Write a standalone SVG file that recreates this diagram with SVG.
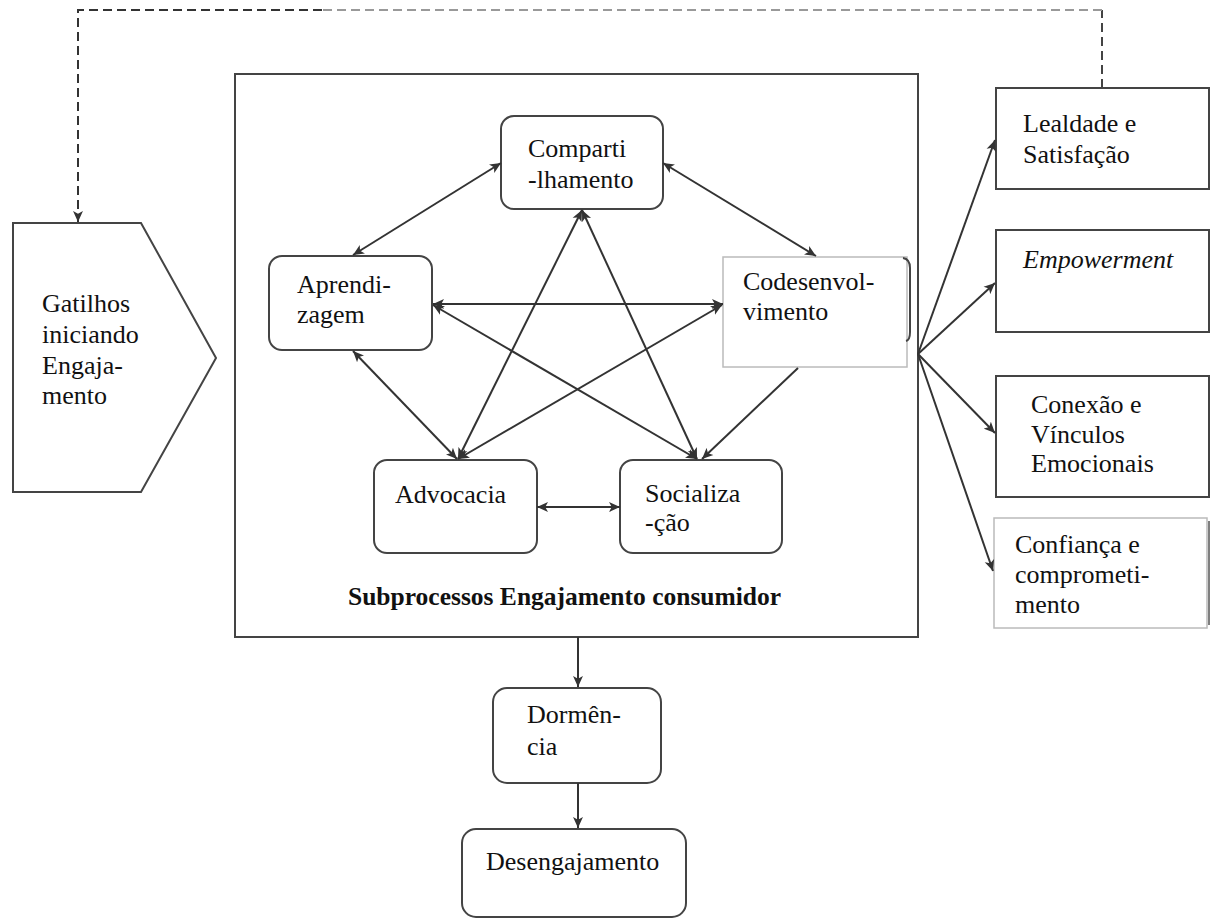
<svg xmlns="http://www.w3.org/2000/svg" width="1216" height="920" viewBox="0 0 1216 920">
  <style>
    text { font-family: 'Liberation Serif', 'Times New Roman', serif; font-size: 26px; fill: #111; }
    .bold { font-weight: bold; font-size: 25.5px; }
    .ital { font-style: italic; }
    .box { fill: #fff; stroke: #444; stroke-width: 2; }
    .light { fill: #fff; stroke: #bbb; stroke-width: 1.5; }
    .link { fill: none; stroke: #333; stroke-width: 2; }
    .dash { fill: none; stroke-width: 2; stroke-dasharray: 9 5; }
  </style>
  <defs>
    <marker id="arrow" viewBox="0 0 10 10" refX="10" refY="5" markerUnits="userSpaceOnUse" markerWidth="11" markerHeight="11" orient="auto-start-reverse">
      <path d="M0,0.5 L10,5 L0,9.5 L2.5,5 z" fill="#333"/>
    </marker>
  </defs>

  <!-- subprocess frame -->
  <g id="frame">
    <rect class="box" x="235" y="74" width="683" height="563"/>
    <text class="bold" x="348" y="605">Subprocessos Engajamento consumidor</text>
  </g>

  <!-- trigger shape -->
  <g id="gatilhos">
    <path class="box" d="M13,223 L141,223 L216,358 L141,492 L13,492 Z"/>
    <text x="42" y="312">Gatilhos</text>
    <text x="42" y="343">iniciando</text>
    <text x="42" y="374">Engaja-</text>
    <text x="42" y="404">mento</text>
  </g>

  <g id="compartilhamento">
    <rect class="box" x="501" y="116" width="162" height="93" rx="13"/>
    <text x="528" y="157">Comparti</text>
    <text x="528" y="188">-lhamento</text>
  </g>

  <g id="aprendizagem">
    <rect class="box" x="269" y="256" width="163" height="94" rx="13"/>
    <text x="297" y="293">Aprendi-</text>
    <text x="297" y="323">zagem</text>
  </g>

  <g id="codesenvolvimento">
    <rect class="light" x="723" y="257" width="184" height="110"/>
    <path d="M903,258 Q910,259 910,268 L910,332 Q910,340 906,341" fill="none" stroke="#444" stroke-width="2"/>
    <text x="743" y="290">Codesenvol-</text>
    <text x="743" y="320">vimento</text>
  </g>

  <g id="advocacia">
    <rect class="box" x="374" y="460" width="163" height="93" rx="13"/>
    <text x="395" y="503">Advocacia</text>
  </g>

  <g id="socializacao">
    <rect class="box" x="620" y="460" width="162" height="93" rx="13"/>
    <text x="645" y="502">Socializa</text>
    <text x="645" y="531">-ção</text>
  </g>

  <g id="lealdade">
    <rect class="box" x="996" y="88" width="213" height="101"/>
    <text x="1023" y="132">Lealdade e</text>
    <text x="1023" y="163">Satisfação</text>
  </g>

  <g id="empowerment">
    <rect class="box" x="996" y="230" width="213" height="102"/>
    <text class="ital" x="1023" y="268">Empowerment</text>
  </g>

  <g id="conexao">
    <rect class="box" x="996" y="376" width="213" height="121"/>
    <text x="1031" y="413">Conexão e</text>
    <text x="1031" y="443">Vínculos</text>
    <text x="1031" y="472">Emocionais</text>
  </g>

  <g id="confianca">
    <rect class="light" x="994" y="518" width="213" height="110"/>
    <line x1="1209" y1="521" x2="1209" y2="625" stroke="#555" stroke-width="1.5"/>
    <text x="1015" y="553">Confiança e</text>
    <text x="1015" y="583">comprometi-</text>
    <text x="1015" y="613">mento</text>
  </g>

  <g id="dormencia">
    <rect class="box" x="493" y="688" width="168" height="95" rx="14"/>
    <text x="527" y="723">Dormên-</text>
    <text x="527" y="755">cia</text>
  </g>

  <g id="desengajamento">
    <rect class="box" x="462" y="829" width="224" height="88" rx="14"/>
    <text x="486" y="870">Desengajamento</text>
  </g>

  <!-- connectors -->
  <g id="connectors">
    <!-- feedback loop from outcomes back to triggers -->
    <path class="dash" stroke="#444" d="M1102,88 L1102,10"/>
    <path class="dash" stroke="#999" d="M1102,10 L322,10"/>
    <path class="dash" stroke="#333" d="M322,10 L78,10 L78,222" marker-end="url(#arrow)"/>

    <!-- star of subprocesses -->
    <line class="link" x1="501" y1="163" x2="353" y2="255" marker-start="url(#arrow)" marker-end="url(#arrow)"/>
    <line class="link" x1="663" y1="163" x2="816" y2="256" marker-start="url(#arrow)" marker-end="url(#arrow)"/>
    <line class="link" x1="433" y1="304" x2="723" y2="304" marker-start="url(#arrow)" marker-end="url(#arrow)"/>
    <line class="link" x1="353" y1="351" x2="457" y2="459" marker-start="url(#arrow)" marker-end="url(#arrow)"/>
    <line class="link" x1="798" y1="368" x2="702" y2="459" marker-end="url(#arrow)"/>
    <line class="link" x1="582" y1="210" x2="458" y2="459" marker-start="url(#arrow)" marker-end="url(#arrow)"/>
    <line class="link" x1="582" y1="210" x2="697" y2="459" marker-start="url(#arrow)" marker-end="url(#arrow)"/>
    <line class="link" x1="433" y1="305" x2="697" y2="459" marker-start="url(#arrow)" marker-end="url(#arrow)"/>
    <line class="link" x1="722" y1="305" x2="458" y2="459" marker-start="url(#arrow)" marker-end="url(#arrow)"/>
    <line class="link" x1="537" y1="507" x2="620" y2="507" marker-start="url(#arrow)" marker-end="url(#arrow)"/>

    <!-- outcome fan -->
    <line class="link" x1="918" y1="354" x2="995" y2="140" marker-end="url(#arrow)"/>
    <line class="link" x1="918" y1="354" x2="995" y2="283" marker-end="url(#arrow)"/>
    <line class="link" x1="918" y1="354" x2="995" y2="433" marker-end="url(#arrow)"/>
    <line class="link" x1="918" y1="354" x2="993" y2="571" marker-end="url(#arrow)"/>

    <!-- downward path -->
    <line class="link" x1="578" y1="637" x2="578" y2="687" marker-end="url(#arrow)"/>
    <line class="link" x1="578" y1="783" x2="578" y2="828" marker-end="url(#arrow)"/>
  </g>
</svg>
